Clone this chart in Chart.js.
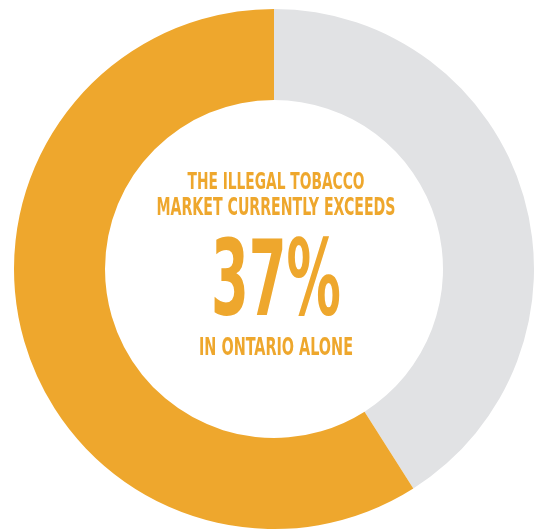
<!DOCTYPE html>
<html>
<head>
<meta charset="utf-8">
<script src="https://cdn.jsdelivr.net/npm/chart.js@4/dist/chart.umd.min.js"></script>
<style>
  html, body { margin: 0; padding: 0; background: #fff; }
  #wrap { width: 538px; height: 529px; }
</style>
</head>
<body>
<div id="wrap"><canvas id="donut" width="538" height="529"></canvas></div>
<script>
// slices, clockwise from 12 o'clock
var labels = ['Other', 'Illegal market'];
var values = [41, 59];
var colors = ['#e1e2e4', '#eea72d'];

// centre text: [text, baseline y, target width, font size]
var centerLines = [
  ['THE ILLEGAL TOBACCO', 189, 177, 23],
  ['MARKET CURRENTLY EXCEEDS', 215, 239, 24],
  ['37%', 315, 130, 106],
  ['IN ONTARIO ALONE', 355, 154, 25]
];

var centerText = {
  id: 'centerText',
  afterDraw: function(chart) {
    var ctx = chart.ctx;
    var cx = 276;
    centerLines.forEach(function(l) {
      ctx.save();
      ctx.font = 'bold ' + l[3] + 'px "Liberation Sans Narrow", "DejaVu Sans Condensed", sans-serif';
      ctx.fillStyle = '#eea72d';
      ctx.textAlign = 'center';
      ctx.textBaseline = 'alphabetic';
      var w = ctx.measureText(l[0]).width;
      ctx.translate(cx, l[1]);
      ctx.scale(l[2] / w, 1);
      ctx.fillText(l[0], 0, 0);
      ctx.restore();
    });
  }
};

var ctx = document.getElementById('donut').getContext('2d');
var myChart = new Chart(ctx, {
  type: 'doughnut',
  data: {
    labels: labels,
    datasets: [{
      data: values,
      backgroundColor: colors,
      borderWidth: 0
    }]
  },
  options: {
    responsive: false,
    animation: false,
    cutout: '65%',
    layout: { padding: { left: 14, right: 4, top: 9, bottom: 0 } },
    plugins: {
      legend: { display: false },
      tooltip: { enabled: false }
    }
  },
  plugins: [centerText]
});
</script>
</body>
</html>
